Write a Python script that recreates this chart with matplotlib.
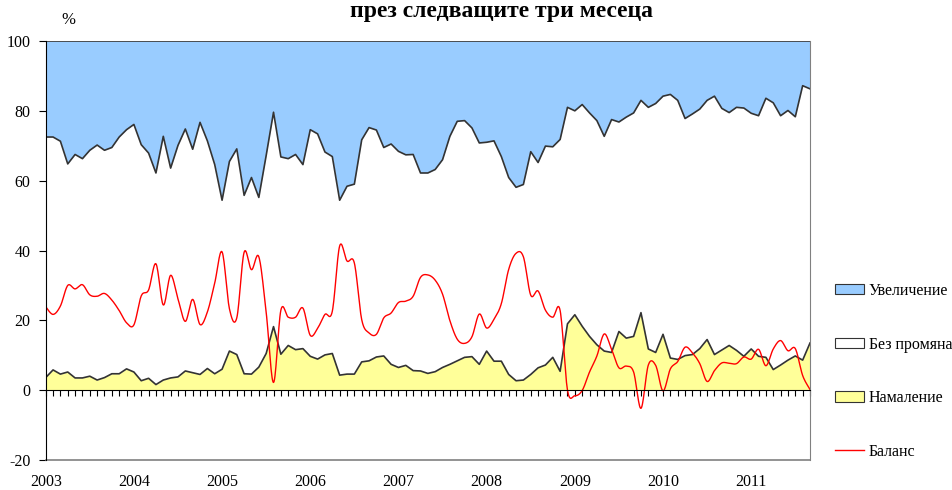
import numpy as np
import matplotlib
matplotlib.use("Agg")
import matplotlib.pyplot as plt
from matplotlib.patches import Patch
from matplotlib.lines import Line2D

plt.rcParams['font.family'] = ['Liberation Serif', 'DejaVu Serif']
plt.rcParams['axes.unicode_minus'] = False

title = "през следващите три месеца"
years = ["2003", "2004", "2005", "2006", "2007", "2008", "2009", "2010", "2011"]
series_names = ["Увеличение", "Без промяна", "Намаление", "Баланс"]

# monthly values, Jan 2003 .. Sep 2011
uvelichenie = [27.5, 27.5, 28.7, 35.2, 32.5, 33.7, 31.3, 29.8, 31.3, 30.5,
               27.5, 25.4, 23.9, 29.7, 32.1, 37.8, 27.3, 36.4, 29.9, 25.2,
               31.0, 23.3, 28.6, 35.4, 45.6, 34.5, 30.9, 44.2, 39.1, 44.8,
               32.8, 20.4, 33.2, 33.7, 32.5, 35.4, 25.4, 26.6, 31.8, 33.1,
               45.6, 41.6, 41.0, 28.3, 24.8, 25.5, 30.5, 29.5, 31.6, 32.6,
               32.5, 37.8, 37.8, 36.8, 34.0, 27.3, 23.0, 22.8, 24.9, 29.2,
               29.0, 28.6, 33.1, 39.1, 41.9, 41.1, 31.7, 34.8, 30.1, 30.3,
               28.2, 19.0, 20.0, 18.2, 20.6, 22.8, 27.3, 22.5, 23.2, 21.8,
               20.6, 17.0, 19.0, 17.9, 15.8, 15.3, 17.0, 22.2, 20.9, 19.5,
               17.0, 15.8, 19.3, 20.5, 19.0, 19.2, 20.7, 21.4, 16.4, 17.7,
               21.4, 19.9, 21.7, 12.8, 13.7]
namalenie = [3.6, 5.8, 4.6, 5.2, 3.5, 3.5, 4.0, 2.9, 3.6, 4.7,
             4.7, 6.1, 5.2, 2.7, 3.4, 1.6, 2.9, 3.5, 3.8, 5.5,
             5.0, 4.5, 6.2, 4.7, 6.0, 11.2, 10.2, 4.7, 4.6, 6.6,
             10.5, 18.2, 10.3, 12.8, 11.6, 11.9, 9.7, 8.9, 10.1, 10.5,
             4.3, 4.6, 4.6, 8.1, 8.4, 9.5, 9.8, 7.4, 6.5, 7.1,
             5.6, 5.5, 4.8, 5.3, 6.5, 7.4, 8.4, 9.4, 9.6, 7.4,
             11.2, 8.3, 8.3, 4.5, 2.7, 2.9, 4.5, 6.4, 7.2, 9.4,
             5.4, 19.0, 21.6, 18.3, 15.4, 13.0, 11.2, 10.8, 16.8, 14.9,
             15.4, 22.2, 11.8, 10.8, 16.0, 9.2, 8.8, 9.9, 10.2, 11.9,
             14.5, 10.2, 11.5, 12.8, 11.4, 9.7, 11.8, 9.7, 9.4, 5.9,
             7.2, 8.6, 9.8, 8.6, 13.5]

U = np.array(uvelichenie)
N = np.array(namalenie)
B = 100.0 - U - N
balans = U - N
x = np.arange(len(U))


def smooth(xv, yv, n=16):
    pts = np.column_stack([xv, yv]).astype(float)
    p = np.vstack([pts[0], pts, pts[-1]])
    t = np.linspace(0, 1, n)[:, None]
    out = []
    for i in range(1, len(p) - 2):
        p0, p1, p2, p3 = p[i - 1], p[i], p[i + 1], p[i + 2]
        c1 = p1 + (p2 - p0) / 6.0
        c2 = p2 - (p3 - p1) / 6.0
        seg = ((1 - t) ** 3) * p1 + 3 * ((1 - t) ** 2) * t * c1 + 3 * (1 - t) * t ** 2 * c2 + t ** 3 * p2
        out.append(seg if i == 1 else seg[1:])
    out = np.vstack(out)
    return out[:, 0], out[:, 1]


fig = plt.figure(figsize=(9.52, 4.90), dpi=100)
ax = fig.add_axes([45.7 / 952, 1 - 460 / 490, (810 - 45.7) / 952, (460 - 41) / 490])

edge = '#333333'
top_line = N + B
ax.fill_between(x, top_line, 100, color='#99CCFF', lw=0)
ax.fill_between(x, N, top_line, color='white', lw=0)
ax.fill_between(x, 0, N, color='#FFFF99', lw=0)
ax.plot(x, top_line, color=edge, lw=1.2)
ax.plot(x, N, color=edge, lw=1.2)
ax.plot([x[0], x[-1]], [100, 100], color=edge, lw=1.2)

sx, sy = smooth(x, balans)
ax.plot(sx, sy, color='red', lw=1.0)

ax.set_xlim(0, len(U) - 1)
ax.set_ylim(-20, 100)
ax.set_yticks(np.arange(-20, 101, 20))
ax.tick_params(axis='y', direction='out', length=5, width=0.8, labelsize=11.5, pad=6)

ax.spines['bottom'].set_position(('data', 0))
ax.spines['bottom'].set_color('black')
ax.spines['left'].set_color('black')
ax.spines['right'].set_color('#808080')
ax.spines['top'].set_visible(False)
ax.plot([0, 1], [0, 0], transform=ax.transAxes, color='#808080', lw=1.2, clip_on=False)

ax.set_xticks(x)
labels = []
for i in x:
    labels.append(years[i // 12] if i % 12 == 0 else "")
ax.set_xticklabels(labels)
ax.tick_params(axis='x', direction='out', length=4, width=0.8, labelsize=11.5, pad=56)

fig.text(68 / 952, 1 - 20 / 490, "%", fontsize=12, ha='center', va='center')
fig.text(501 / 952, 1 - 11 / 490, title, fontsize=17, fontweight='bold', ha='center', va='center')

handles = [Patch(facecolor='#99CCFF', edgecolor=edge, lw=0.8),
           Patch(facecolor='white', edgecolor=edge, lw=0.8),
           Patch(facecolor='#FFFF99', edgecolor=edge, lw=0.8),
           Line2D([0], [0], color='red', lw=1.0)]
fig.legend(handles, series_names, loc='upper left', bbox_to_anchor=(835 / 952, 1 - 283 / 490),
           frameon=False, fontsize=11.5, handlelength=1.8, handleheight=0.6,
           handletextpad=0.3, labelspacing=2.35, borderaxespad=0, borderpad=0)

fig.savefig("out.png", dpi=100)
